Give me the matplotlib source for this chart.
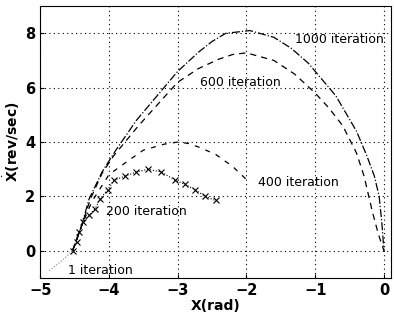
import matplotlib
matplotlib.use("Agg")
import matplotlib.pyplot as plt

# trajectories
x_1000 = [-4.53, -4.4, -4.29, -4.1, -3.9, -3.6, -3.2, -3.0, -2.7, -2.5, -2.3, -1.95, -1.6, -1.35, -1.1, -0.7, -0.4, -0.25, -0.14, -0.07, -0.03, 0.0]
y_1000 = [0.0, 0.9, 1.9, 2.9, 3.7, 4.8, 6.0, 6.6, 7.3, 7.7, 8.0, 8.1, 7.85, 7.45, 6.9, 5.7, 4.4, 3.5, 2.75, 2.0, 1.0, 0.0]

x_600 = [-4.53, -4.4, -4.27, -4.1, -3.93, -3.57, -3.25, -3.0, -2.7, -2.4, -2.2, -2.0, -1.6, -1.3, -1.0, -0.8, -0.6, -0.4, -0.29, -0.17, -0.08, 0.0]
y_600 = [0.0, 0.9, 1.9, 2.85, 3.5, 4.6, 5.5, 6.2, 6.7, 7.05, 7.22, 7.28, 7.0, 6.5, 5.8, 5.25, 4.6, 3.6, 2.75, 1.45, 0.6, 0.0]

x_400 = [-4.53, -4.4, -4.25, -4.0, -3.7, -3.5, -3.2, -3.0, -2.85, -2.7, -2.45, -2.2, -1.95]
y_400 = [0.0, 0.9, 1.8, 2.8, 3.35, 3.7, 3.92, 4.0, 3.95, 3.82, 3.55, 3.1, 2.5]

x_200 = [-4.53, -4.47, -4.43, -4.38, -4.29, -4.2, -4.13, -4.02, -3.92, -3.76, -3.6, -3.43, -3.24, -3.04, -2.9, -2.75, -2.6, -2.45]
y_200 = [0.0, 0.33, 0.7, 1.05, 1.3, 1.55, 1.9, 2.25, 2.6, 2.75, 2.9, 3.0, 2.9, 2.6, 2.45, 2.25, 2.0, 1.85]

x_1 = [-4.53, -4.7, -4.88]
y_1 = [0.0, -0.4, -0.75]

labels = ["1000 iteration", "600 iteration", "400 iteration", "200 iteration", "1 iteration"]
label_xy = [(-1.3, 7.77), (-2.67, 6.2), (-1.83, 2.5), (-4.04, 1.43), (-4.6, -0.73)]

fig = plt.figure(figsize=(3.94, 3.21), dpi=100)
ax = fig.add_axes([0.102, 0.134, 0.89, 0.847])

ax.plot(x_1000, y_1000, color="black", linestyle="-.", linewidth=0.9)
ax.plot(x_600, y_600, color="black", linestyle="--", linewidth=0.9, dashes=(5, 4))
ax.plot(x_400, y_400, color="black", linestyle="--", linewidth=0.9, dashes=(4, 5))
ax.plot(x_200, y_200, color="black", linestyle=":", linewidth=0.8,
        marker="x", markersize=5, markeredgewidth=0.8)
ax.plot(x_1, y_1, color="gray", linestyle=":", linewidth=0.8)

for txt, (tx, ty) in zip(labels, label_xy):
    ax.text(tx, ty, txt, fontsize=9, va="center", ha="left", color="black")

ax.set_xlim(-5, 0.1)
ax.set_ylim(-1, 9)
ax.set_xticks([-5, -4, -3, -2, -1, 0])
ax.set_yticks([0, 2, 4, 6, 8])
ax.grid(True, color="black", linestyle=(0, (1, 3)), linewidth=0.8)
ax.tick_params(direction="in", labelsize=10.5, length=3)
for lab in ax.get_xticklabels() + ax.get_yticklabels():
    lab.set_fontweight("bold")

ax.set_xlabel("X(rad)", fontsize=10, fontweight="bold", labelpad=1)
ax.set_ylabel(r"$\dot{\mathbf{X}}$(rev/sec)", fontsize=10, fontweight="bold", labelpad=2)

fig.savefig("out.png", dpi=100)
